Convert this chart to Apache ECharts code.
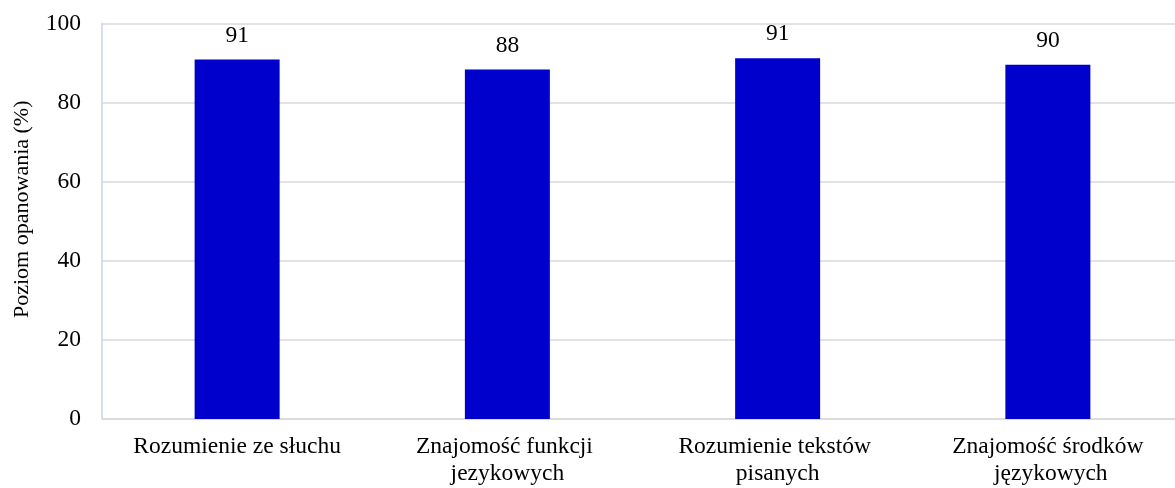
<!DOCTYPE html>
<html>
<head>
<meta charset="utf-8">
<script src="https://cdn.jsdelivr.net/npm/echarts@6/dist/echarts.min.js"></script>
<style>
  html, body { margin: 0; padding: 0; background: #ffffff; }
  #chart { width: 1175px; height: 488px; }
</style>
</head>
<body>
<div id="chart"></div>
<script>
// Skill areas and their mastery levels (%)
const categories = [
  'Rozumienie ze słuchu',
  'Znajomość funkcji jezykowych',
  'Rozumienie tekstów pisanych',
  'Znajomość środków językowych'
];
const mastery = [90.9, 88.4, 91.2, 89.6];
const yTicks = [0, 20, 40, 60, 80, 100];

const serif = "'Liberation Serif', 'Times New Roman', serif";
const fs = 23.5;

const chart = echarts.init(document.getElementById('chart'), null, { renderer: 'canvas' });

chart.setOption({
  animation: false,
  backgroundColor: '#ffffff',
  grid: {
    left: 102, top: 23.5, bottom: 69, width: 1081,
    containLabel: false,
    outerBoundsMode: 'none'
  },
  xAxis: {
    type: 'category',
    data: categories,
    axisLine: { show: true, lineStyle: { color: '#d9d9d9', width: 1.5 } },
    axisTick: { show: false },
    axisLabel: {
      interval: 0,
      margin: 14,
      color: '#000000',
      fontFamily: serif,
      fontSize: fs,
      lineHeight: 27,
      width: 250,
      overflow: 'break'
    }
  },
  yAxis: {
    type: 'value',
    min: yTicks[0],
    max: yTicks[yTicks.length - 1],
    interval: yTicks[1] - yTicks[0],
    name: 'Poziom opanowania (%)',
    nameLocation: 'middle',
    nameGap: 69,
    nameRotate: 90,
    nameTextStyle: {
      color: '#000000',
      fontFamily: serif,
      fontSize: 22,
      padding: [0, 0, 0, 24]
    },
    axisLine: { show: true, lineStyle: { color: '#c9d5e8', width: 1.5 } },
    axisTick: { show: false },
    axisLabel: {
      margin: 21,
      color: '#000000',
      fontFamily: serif,
      fontSize: fs
    },
    splitLine: { show: true, lineStyle: { color: '#d9d9d9', width: 1.5 } }
  },
  series: [{
    type: 'bar',
    data: mastery,
    barWidth: 85,
    itemStyle: { color: '#0000cc' },
    label: {
      show: true,
      position: 'top',
      distance: 12,
      color: '#000000',
      fontFamily: serif,
      fontSize: fs,
      formatter: p => Math.round(p.value).toString()
    }
  }]
});
</script>
</body>
</html>
